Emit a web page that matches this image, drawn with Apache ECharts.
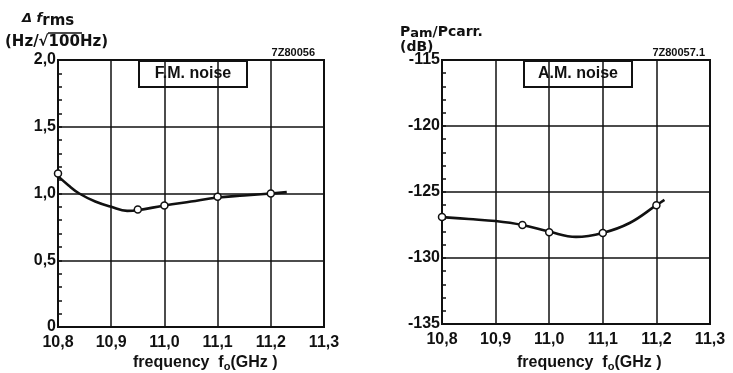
<!DOCTYPE html>
<html>
<head>
<meta charset="utf-8">
<script src="https://cdn.jsdelivr.net/npm/echarts@6/dist/echarts.min.js"></script>
<style>
  html, body { margin: 0; padding: 0; background: #fff; }
  #chart { width: 733px; height: 373px; }
</style>
</head>
<body>
<div id="chart"></div>
<script>
// frequency ticks (GHz)
var freqTicks = [10.8, 10.9, 11.0, 11.1, 11.2, 11.3];

// F.M. noise: fitted curve and measured points
var fmCurveX = [10.8, 10.82, 10.84, 10.87, 10.9, 10.93, 10.95, 11.0, 11.05, 11.1, 11.15, 11.2, 11.23];
var fmCurveY = [1.13, 1.06, 1.0, 0.94, 0.9, 0.87, 0.875, 0.91, 0.94, 0.97, 0.985, 1.0, 1.01];
var fmPointX = [10.8, 10.95, 11.0, 11.1, 11.2];
var fmPointY = [1.15, 0.88, 0.91, 0.975, 1.0];

// A.M. noise: fitted curve and measured points
var amCurveX = [10.8, 10.85, 10.9, 10.95, 11.0, 11.05, 11.1, 11.15, 11.2, 11.215];
var amCurveY = [-126.9, -127.05, -127.2, -127.5, -128.0, -128.4, -128.1, -127.35, -126.0, -125.6];
var amPointX = [10.8, 10.95, 11.0, 11.1, 11.2];
var amPointY = [-126.9, -127.5, -128.05, -128.1, -126.0];

function pairs(xs, ys) {
    return xs.map(function (x, i) { return [x, ys[i]]; });
}

var ink = '#111';
var font = 'Liberation Sans';
var wide = 'DejaVu Sans';

function xAxisFor(gridIndex) {
    return {
        type: 'value',
        gridIndex: gridIndex,
        min: freqTicks[0],
        max: freqTicks[freqTicks.length - 1],
        interval: 0.1,
        axisLine: { show: false },
        axisTick: { show: false },
        splitLine: { show: true, lineStyle: { color: ink, width: 1.5 } },
        axisLabel: {
            color: ink,
            fontFamily: font,
            fontWeight: 'bold',
            fontSize: 16,
            margin: 8,
            formatter: function (v) { return v.toFixed(1).replace('.', ','); }
        }
    };
}

function yAxisFor(gridIndex, min, max, interval, fmt) {
    return {
        type: 'value',
        gridIndex: gridIndex,
        min: min,
        max: max,
        interval: interval,
        axisLine: { show: false },
        axisTick: { show: true, inside: true, length: 4, lineStyle: { color: ink, width: 1.5 } },
        minorTick: { show: true, splitNumber: 5, length: 4, lineStyle: { color: ink, width: 1.5 } },
        splitLine: { show: true, lineStyle: { color: ink, width: 1.5 } },
        axisLabel: {
            color: ink,
            fontFamily: font,
            fontWeight: 'bold',
            fontSize: 16,
            margin: 2,
            padding: [3, 0, 0, 0],
            formatter: fmt
        }
    };
}

function noiseBox(x, label) {
    return {
        type: 'group',
        left: x,
        top: 60,
        z: 50,
        children: [{
            type: 'rect',
            shape: { x: 0, y: 0, width: 108, height: 26 },
            style: { fill: '#fff', stroke: ink, lineWidth: 2 }
        }, {
            type: 'text',
            x: 54,
            y: 13,
            style: {
                text: label, fill: ink, font: 'bold 16px ' + font,
                align: 'center', verticalAlign: 'middle'
            }
        }]
    };
}

function freqTitle(x) {
    return {
        type: 'text', left: x, top: 355,
        style: {
            text: '{a|frequency  f}{s|o}{a|(GHz )}',
            rich: {
                a: { fontFamily: font, fontWeight: 'bold', fontSize: 16, fill: ink },
                s: { fontFamily: font, fontWeight: 'bold', fontSize: 11, fill: ink, padding: [7, 0, 0, 0] }
            }
        }
    };
}

var myChart = echarts.init(document.getElementById('chart'));

option = {
    backgroundColor: '#fff',
    animation: false,
    grid: [
        { left: 58, top: 60, width: 266, height: 267, show: true, borderColor: ink, borderWidth: 2, backgroundColor: '#fff' },
        { left: 442, top: 60, width: 268, height: 264, show: true, borderColor: ink, borderWidth: 2, backgroundColor: '#fff' }
    ],
    xAxis: [xAxisFor(0), xAxisFor(1)],
    yAxis: [
        yAxisFor(0, 0, 2, 0.5, function (v) { return v === 0 ? '0' : v.toFixed(1).replace('.', ','); }),
        yAxisFor(1, -135, -115, 5, function (v) { return String(v); })
    ],
    series: [{
        type: 'line',
        xAxisIndex: 0, yAxisIndex: 0,
        data: pairs(fmCurveX, fmCurveY),
        smooth: 0.4,
        showSymbol: false,
        lineStyle: { color: ink, width: 2.6 },
        z: 10
    }, {
        type: 'scatter',
        xAxisIndex: 0, yAxisIndex: 0,
        data: pairs(fmPointX, fmPointY),
        symbol: 'circle',
        symbolSize: 7,
        clip: false,
        itemStyle: { color: '#fff', borderColor: ink, borderWidth: 1.5, opacity: 1 },
        z: 11
    }, {
        type: 'line',
        xAxisIndex: 1, yAxisIndex: 1,
        data: pairs(amCurveX, amCurveY),
        smooth: 0.4,
        showSymbol: false,
        lineStyle: { color: ink, width: 2.6 },
        z: 10
    }, {
        type: 'scatter',
        xAxisIndex: 1, yAxisIndex: 1,
        data: pairs(amPointX, amPointY),
        symbol: 'circle',
        symbolSize: 7,
        clip: false,
        itemStyle: { color: '#fff', borderColor: ink, borderWidth: 1.5, opacity: 1 },
        z: 11
    }],
    graphic: [
        noiseBox(138, 'F.M. noise'),
        noiseBox(523, 'A.M. noise'),
        // left y title
        {
            type: 'text', left: 22, top: 12,
            style: {
                text: '{a|\u0394 f}{s|rms}',
                rich: {
                    a: { fontFamily: wide, fontWeight: 'bold', fontStyle: 'italic', fontSize: 13, fill: ink },
                    s: { fontFamily: wide, fontWeight: 'bold', fontSize: 15, fill: ink, padding: [6, 0, 0, 0] }
                }
            }
        },
        {
            type: 'text', left: 5, top: 35,
            style: { text: '(Hz/\u221A100Hz)', fill: ink, font: 'bold 15px ' + wide }
        },
        {
            type: 'line',
            shape: { x1: 48, y1: 33, x2: 82, y2: 33 },
            style: { stroke: ink, lineWidth: 1.5 }
        },
        {
            type: 'text', right: 733 - 315, top: 47,
            style: { text: '7Z80056', fill: ink, font: 'bold 11px ' + font }
        },
        // right y title
        {
            type: 'text', left: 400, top: 25,
            style: {
                text: '{a|P}{s|am}{a|/Pcarr.}',
                rich: {
                    a: { fontFamily: wide, fontWeight: 'bold', fontSize: 14, fill: ink },
                    s: { fontFamily: wide, fontWeight: 'bold', fontSize: 13, fill: ink, padding: [4, 0, 0, 0] }
                }
            }
        },
        {
            type: 'text', left: 400, top: 40,
            style: { text: '(dB)', fill: ink, font: 'bold 14px ' + wide }
        },
        {
            type: 'text', right: 733 - 705, top: 47,
            style: { text: '7Z80057.1', fill: ink, font: 'bold 11px ' + font }
        },
        freqTitle(133),
        freqTitle(517)
    ]
};
myChart.setOption(option);
</script>
</body>
</html>
